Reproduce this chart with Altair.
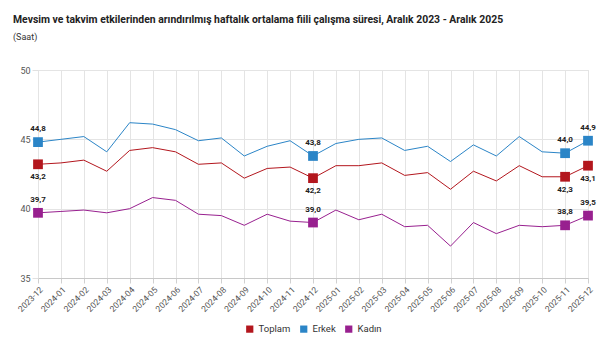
import altair as alt
import pandas as pd

months = ["2023-12", "2024-01", "2024-02", "2024-03", "2024-04", "2024-05", "2024-06",
          "2024-07", "2024-08", "2024-09", "2024-10", "2024-11", "2024-12",
          "2025-01", "2025-02", "2025-03", "2025-04", "2025-05", "2025-06",
          "2025-07", "2025-08", "2025-09", "2025-10", "2025-11", "2025-12"]
toplam = [43.2, 43.3, 43.5, 42.7, 44.2, 44.4, 44.1, 43.2, 43.3, 42.2, 42.9, 43.0, 42.2,
          43.1, 43.1, 43.3, 42.4, 42.6, 41.4, 42.7, 42.0, 43.1, 42.3, 42.3, 43.1]
erkek = [44.8, 45.0, 45.2, 44.1, 46.2, 46.1, 45.7, 44.9, 45.1, 43.8, 44.5, 44.9, 43.8,
         44.7, 45.0, 45.1, 44.2, 44.5, 43.4, 44.6, 43.8, 45.2, 44.1, 44.0, 44.9]
kadin = [39.7, 39.8, 39.9, 39.7, 40.0, 40.8, 40.6, 39.6, 39.5, 38.8, 39.6, 39.1, 39.0,
         39.9, 39.2, 39.6, 38.7, 38.8, 37.3, 39.0, 38.2, 38.8, 38.7, 38.8, 39.5]
series_names = ["Toplam", "Erkek", "Kadın"]
series_colors = ["#b3161d", "#2b85c7", "#98208f"]
label_months = ["2023-12", "2024-12", "2025-11", "2025-12"]
y_ticks = [35, 40, 45, 50]

rows = []
for name, vals in zip(series_names, [toplam, erkek, kadin]):
    for m, v in zip(months, vals):
        rows.append({"ay": m, "seri": name, "deger": v,
                     "etiket": f"{v:.1f}".replace(".", ","),
                     "isaret": m in label_months})
df = pd.DataFrame(rows)

FONT = "Roboto"

x_enc = alt.X("ay:O", sort=months, scale=alt.Scale(type="point", padding=0),
              axis=alt.Axis(title=None, labelAngle=315, grid=True, gridColor="#e4e4e4",
                            tickColor="#d0d0d0", tickSize=5, domainColor="#c8c8c8",
                            labelColor="#555555", labelFontSize=8.5, labelFont=FONT,
                            labelPadding=2))
y_enc = alt.Y("deger:Q", scale=alt.Scale(domain=[35, 50], nice=False, zero=False),
              axis=alt.Axis(title=None, values=y_ticks, grid=True, gridColor="#e4e4e4",
                            domain=False, tickColor="#e0e0e0", tickSize=6,
                            labelColor="#555555", labelFontSize=9, labelFont=FONT,
                            labelPadding=2))
color_enc = alt.Color("seri:N", sort=series_names,
                      scale=alt.Scale(domain=series_names, range=series_colors),
                      legend=alt.Legend(title=None, orient="none", direction="horizontal",
                                        legendX=207, legendY=254, symbolType="square",
                                        symbolSize=52, symbolStrokeWidth=0, symbolOpacity=1,
                                        labelFontSize=9.5, labelFont=FONT, labelColor="#333333",
                                        labelOffset=4, columnPadding=8, padding=0))

base = alt.Chart(df).encode(x=x_enc, y=y_enc, color=color_enc)

lines = base.mark_line(strokeWidth=1)
points = base.transform_filter("datum.isaret").mark_square(size=95, opacity=1)

def label_layer(name, dy):
    return alt.Chart(df).transform_filter(
        f"datum.isaret && datum.seri == '{name}'"
    ).mark_text(dy=dy, fontSize=8, fontWeight="bold", font=FONT, color="#222222").encode(
        x=alt.X("ay:O", sort=months), y="deger:Q", text="etiket:N")

chart = alt.layer(
    lines, points,
    label_layer("Toplam", 13), label_layer("Erkek", -13), label_layer("Kadın", -13)
).properties(
    width=550, height=208,
    title=alt.TitleParams(
        text="Mevsim ve takvim etkilerinden arındırılmış haftalık ortalama fiili çalışma süresi, Aralık 2023 - Aralık 2025",
        subtitle="(Saat)", anchor="start", frame="group", dx=-25, offset=24,
        font=FONT, fontSize=10.4, fontWeight="bold", color="#222222",
        subtitleFont=FONT, subtitleFontSize=9, subtitleColor="#333333", subtitlePadding=8),
    autosize=alt.AutoSizeParams(type="none"),
    padding={"left": 38, "top": 70, "right": 19, "bottom": 73}
).configure_view(stroke=None).configure(background="white")

chart.save("out.html", embed_options={"renderer": "svg", "actions": False})
